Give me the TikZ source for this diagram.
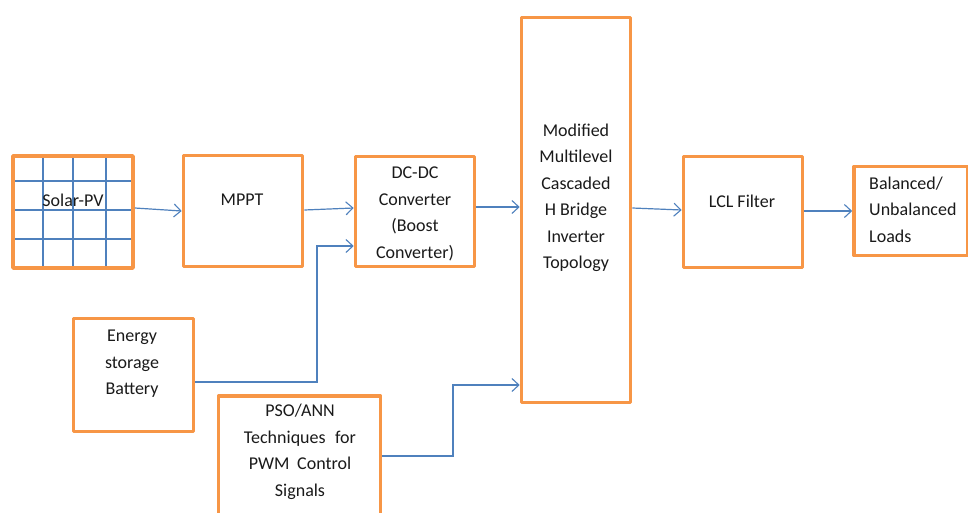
\documentclass[tikz,border=0pt]{standalone}
\usepackage{fontspec}
\setmainfont{Carlito}
\usetikzlibrary{arrows.meta}
\definecolor{boxorange}{HTML}{F79646}
\definecolor{lineblue}{HTML}{4F81BD}
\definecolor{txt}{HTML}{1A1A1A}
\tikzset{
  blk/.style={draw=boxorange, line width=3.6pt, line join=round, fill=white, inner sep=0pt},
  lbl/.style={text=txt, font=\fontsize{18}{26.5}\selectfont, align=center, inner sep=0pt},
  conn/.style={draw=lineblue, line width=1.2pt, -{Straight Barb[length=7pt,width=13pt,line width=1.1pt]}},
  gridln/.style={draw=lineblue, line width=1.2pt}
}
\begin{document}
\begin{tikzpicture}[x=1pt,y=-1pt]
\clip (0,0) rectangle (968,512);
\fill[white] (0,0) rectangle (968,512);
% boxes (centre-line corners)
\node[blk, draw=none, minimum width=120pt, minimum height=112pt] (solar) at (73,212) {};
\foreach \gx in {43,73,106} \draw[gridln] (\gx,157) -- (\gx,267);
\foreach \gy in {181,210,239} \draw[gridln] (14,\gy) -- (132,\gy);
\draw[draw=boxorange, line width=3.6pt, line join=round] (13,156) rectangle (133,268);
\node[lbl] (solart) at (73,200) {Solar-PV};

\node[blk, minimum width=119pt, minimum height=111pt] (mppt) at (243,211) {};
\node[lbl] (mpptt) at (242,200) {MPPT};

\node[blk, minimum width=119pt, minimum height=110pt] (dc) at (415,211.5) {};
\node[lbl] (dct) at (415,214) {DC-DC\\Converter\\(Boost\\Converter)};

\node[blk, minimum width=109pt, minimum height=385pt] (inv) at (576,210) {};
\node[lbl] (invt) at (576,198) {Modified\\Multilevel\\Cascaded\\H Bridge\\Inverter\\Topology};

\node[blk, minimum width=119pt, minimum height=111pt] (lcl) at (743,212) {};
\node[lbl] (lclt) at (742,201) {LCL Filter};

\node[blk, minimum width=114pt, minimum height=89pt] (bal) at (911,211) {};
\node[lbl, align=left, anchor=west] (balt) at (869,209.5) {Balanced/\\Unbalanced\\Loads};

\node[blk, minimum width=120pt, minimum height=113pt] (bat) at (133.5,375) {};
\node[lbl] (batt) at (132,364) {Energy\\storage\\Battery};

\node[blk, minimum width=162pt, minimum height=140pt] (pso) at (299.5,466) {};
\node[lbl] (psot) at (300,452) {PSO/ANN\\Techniques\hspace{0.3em} for\\PWM\hspace{0.2em} Control\\Signals};

% connectors
\coordinate (bend1) at (317,382);
\coordinate (bend2) at (317,246);
\coordinate (bend3) at (453,456);
\coordinate (bend4) at (453,385);
\draw[conn] (solar.east |- 0,208) -- (mppt.west |- 0,211);
\draw[conn] (mppt.east |- 0,210) -- (dc.west |- 0,208);
\draw[conn] (bat.east |- bend1) -- (bend1) -- (bend2) -- (dc.west |- bend2);
\draw[conn] (dc.east |- 0,207) -- (inv.west |- 0,207);
\draw[conn] (pso.east |- bend3) -- (bend3) -- (bend4) -- (inv.west |- bend4);
\draw[conn] (inv.east |- 0,208) -- (lcl.west |- 0,210);
\draw[conn] (lcl.east |- 0,211) -- (bal.west |- 0,211);
\end{tikzpicture}
\end{document}
